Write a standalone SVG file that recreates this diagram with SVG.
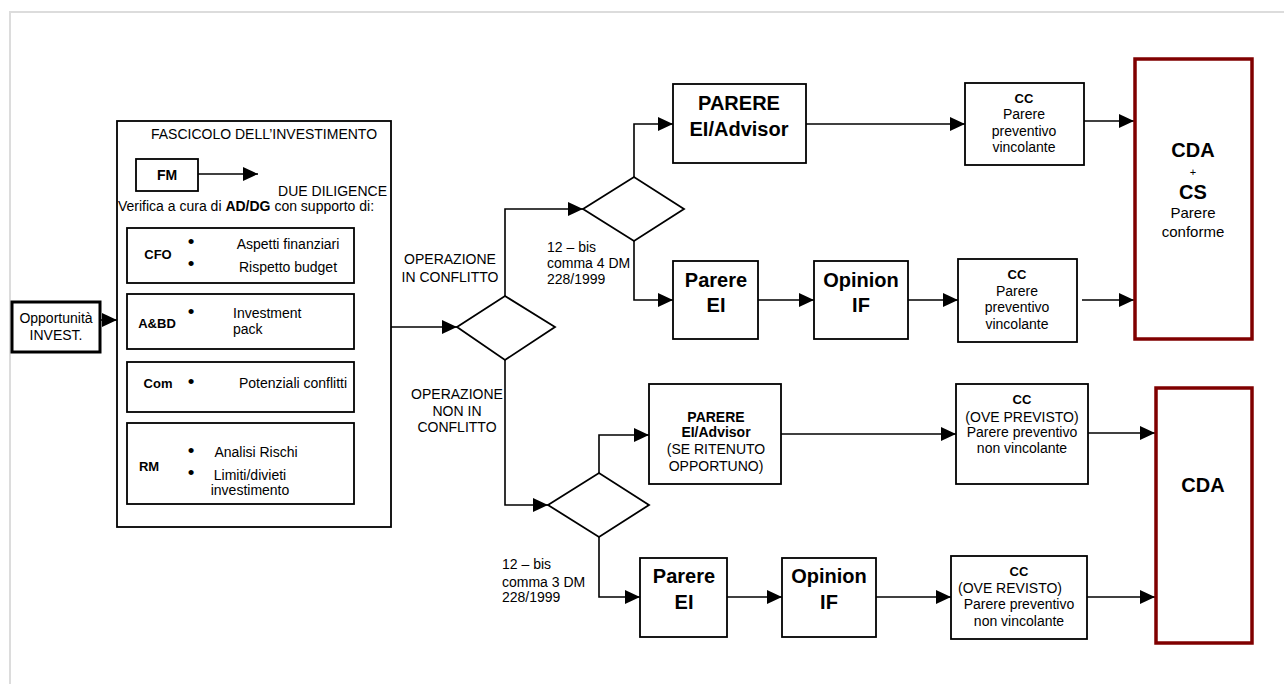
<svg xmlns="http://www.w3.org/2000/svg" width="1284" height="684" viewBox="0 0 1284 684">
<defs>
<marker id="arr" markerUnits="userSpaceOnUse" markerWidth="15" markerHeight="14" refX="15" refY="7" orient="auto">
<path d="M0,0 L15,7 L0,14 z" fill="#000"/>
</marker>
<style>
text{font-family:"Liberation Sans",Arial,sans-serif;fill:#000;}
.t14{font-size:14px;}
.bul{font-size:19px;text-anchor:middle;}
.b13{font-size:13px;font-weight:bold;}
.b14{font-size:14px;font-weight:bold;}
.b20{font-size:20px;font-weight:bold;}
.m{text-anchor:middle;}
.box{fill:#fff;stroke:#000;stroke-width:1.8;}
.thick{fill:#fff;stroke:#000;stroke-width:3;}
.red{fill:#fff;stroke:#800000;stroke-width:3.5;}
.dia{fill:#fff;stroke:#000;stroke-width:1.8;}
.c{fill:none;stroke:#000;stroke-width:1.6;marker-end:url(#arr);}
</style>
</defs>
<rect width="1284" height="684" fill="#fff"/>
<path d="M10,684 V12 H1284" fill="none" stroke="#dcdcdc" stroke-width="2"/>

<g id="opportunita">
<rect class="thick" x="12" y="302" width="88" height="50"/>
<text class="t14 m" x="56" y="323">Opportunità</text>
<text class="t14 m" x="56" y="340">INVEST.</text>
</g>

<g id="fascicolo">
<rect class="box" x="117" y="121" width="274" height="406"/>
<text class="t14 m" x="264" y="139">FASCICOLO DELL’INVESTIMENTO</text>
<text class="t14" x="387" y="196" text-anchor="end">DUE DILIGENCE</text>
<text class="t14" x="118" y="211">Verifica a cura di <tspan font-weight="bold">AD/DG</tspan> con supporto di:</text>
</g>

<g id="fm">
<rect class="box" x="136" y="159" width="62" height="32" stroke-width="2.2"/>
<text class="b14 m" x="167" y="180">FM</text>
</g>

<g id="cfo">
<rect class="box" x="127" y="228" width="227" height="55"/>
<text class="b13 m" x="158" y="259">CFO</text>
<text class="bul" x="191" y="248">•</text>
<text class="bul" x="191" y="270">•</text>
<text class="t14 m" x="288" y="249">Aspetti finanziari</text>
<text class="t14 m" x="288" y="272">Rispetto budget</text>
</g>

<g id="abd">
<rect class="box" x="127" y="294" width="227" height="55"/>
<text class="b13 m" x="157" y="328">A&amp;BD</text>
<text class="bul" x="191" y="318">•</text>
<text class="t14" x="233" y="318">Investment</text>
<text class="t14" x="233" y="334">pack</text>
</g>

<g id="com">
<rect class="box" x="127" y="362" width="227" height="50"/>
<text class="b13 m" x="158" y="388">Com</text>
<text class="bul" x="191" y="388">•</text>
<text class="t14 m" x="293" y="388">Potenziali conflitti</text>
</g>

<g id="rm">
<rect class="box" x="127" y="423" width="227" height="81"/>
<text class="b13 m" x="149" y="471">RM</text>
<text class="bul" x="191" y="457">•</text>
<text class="bul" x="191" y="479">•</text>
<text class="t14 m" x="256" y="457">Analisi Rischi</text>
<text class="t14 m" x="250" y="480">Limiti/divieti</text>
<text class="t14 m" x="250" y="495">investimento</text>
</g>

<g id="connectors">
<path class="c" d="M100,320 H117"/>
<path class="c" d="M198,174 H258"/>
<path class="c" d="M391,327 H457"/>
<path class="c" d="M505,296 V209 H583"/>
<path class="c" d="M634,177 V124 H673"/>
<path class="c" d="M634,241 V300 H673"/>
<path class="c" d="M806,124 H965"/>
<path class="c" d="M758,300 H814"/>
<path class="c" d="M908,300 H958"/>
<path class="c" d="M1084,121 H1134"/>
<path class="c" d="M1082,300 H1134"/>
<path class="c" d="M505,360 V505 H548"/>
<path class="c" d="M599,473 V435 H649"/>
<path class="c" d="M599,537 V597 H640"/>
<path class="c" d="M781,434 H956"/>
<path class="c" d="M727,597 H782"/>
<path class="c" d="M876,597 H951"/>
<path class="c" d="M1086,433 H1155"/>
<path class="c" d="M1086,597 H1155"/>
</g>

<g id="d1">
<polygon class="dia" points="457,327 505,296 555,327 505,360"/>
</g>
<g id="d2">
<polygon class="dia" points="583,209 634,177 684,209 634,241"/>
</g>
<g id="d3">
<polygon class="dia" points="548,505 599,473 649,505 599,537"/>
</g>

<g id="lbl-conflitto">
<text class="t14 m" x="450" y="264">OPERAZIONE</text>
<text class="t14 m" x="450" y="282">IN CONFLITTO</text>
</g>
<g id="lbl-comma4">
<text class="t14" x="547" y="252">12 – bis</text>
<text class="t14" x="547" y="268">comma 4 DM</text>
<text class="t14" x="547" y="284">228/1999</text>
</g>
<g id="lbl-nonconflitto">
<text class="t14 m" x="457" y="399">OPERAZIONE</text>
<text class="t14 m" x="457" y="416">NON IN</text>
<text class="t14 m" x="457" y="432">CONFLITTO</text>
</g>
<g id="lbl-comma3">
<text class="t14" x="502" y="569">12 – bis</text>
<text class="t14" x="502" y="587">comma 3 DM</text>
<text class="t14" x="502" y="602">228/1999</text>
</g>

<g id="parere-advisor-1">
<rect class="box" x="673" y="84" width="133" height="79"/>
<text class="b20 m" x="739" y="110">PARERE</text>
<text class="b20 m" x="739" y="136">EI/Advisor</text>
</g>
<g id="parere-ei-1">
<rect class="box" x="673" y="261" width="85" height="78"/>
<text class="b20 m" x="716" y="287">Parere</text>
<text class="b20 m" x="716" y="312">EI</text>
</g>
<g id="opinion-if-1">
<rect class="box" x="814" y="261" width="94" height="78"/>
<text class="b20 m" x="861" y="287">Opinion</text>
<text class="b20 m" x="861" y="312">IF</text>
</g>
<g id="cc-1">
<rect class="box" x="965" y="83" width="119" height="82"/>
<text class="b13 m" x="1024" y="103">CC</text>
<text class="t14 m" x="1024" y="119">Parere</text>
<text class="t14 m" x="1024" y="136">preventivo</text>
<text class="t14 m" x="1024" y="152">vincolante</text>
</g>
<g id="cc-2">
<rect class="box" x="958" y="259" width="119" height="83"/>
<text class="b13 m" x="1017" y="279">CC</text>
<text class="t14 m" x="1017" y="296">Parere</text>
<text class="t14 m" x="1017" y="312">preventivo</text>
<text class="t14 m" x="1017" y="329">vincolante</text>
</g>
<g id="cda-cs">
<rect class="red" x="1135" y="59" width="117" height="280"/>
<text class="b20 m" x="1193" y="157">CDA</text>
<text class="m" x="1193" y="176" font-size="11">+</text>
<text class="b20 m" x="1193" y="199">CS</text>
<text class="m" x="1193" y="218" font-size="15">Parere</text>
<text class="m" x="1193" y="237" font-size="15">conforme</text>
</g>

<g id="parere-advisor-2">
<rect class="box" x="649" y="384" width="132" height="100"/>
<text class="b14 m" x="716" y="422">PARERE</text>
<text class="b14 m" x="716" y="437">EI/Advisor</text>
<text class="t14 m" x="716" y="454">(SE RITENUTO</text>
<text class="t14 m" x="716" y="471">OPPORTUNO)</text>
</g>
<g id="parere-ei-2">
<rect class="box" x="640" y="558" width="87" height="79"/>
<text class="b20 m" x="684" y="583">Parere</text>
<text class="b20 m" x="684" y="609">EI</text>
</g>
<g id="opinion-if-2">
<rect class="box" x="782" y="558" width="94" height="79"/>
<text class="b20 m" x="829" y="583">Opinion</text>
<text class="b20 m" x="829" y="609">IF</text>
</g>
<g id="cc-3">
<rect class="box" x="956" y="384" width="132" height="100"/>
<text class="b13 m" x="1022" y="404">CC</text>
<text class="t14 m" x="1022" y="422">(OVE PREVISTO)</text>
<text class="t14 m" x="1022" y="437">Parere preventivo</text>
<text class="t14 m" x="1022" y="453">non vincolante</text>
</g>
<g id="cc-4">
<rect class="box" x="951" y="556" width="136" height="83"/>
<text class="b13 m" x="1019" y="576">CC</text>
<text class="t14" x="958" y="593">(OVE REVISTO)</text>
<text class="t14 m" x="1019" y="609">Parere preventivo</text>
<text class="t14 m" x="1019" y="626">non vincolante</text>
</g>
<g id="cda">
<rect class="red" x="1156" y="388" width="96" height="255"/>
<text class="b20 m" x="1203" y="492">CDA</text>
</g>
</svg>
